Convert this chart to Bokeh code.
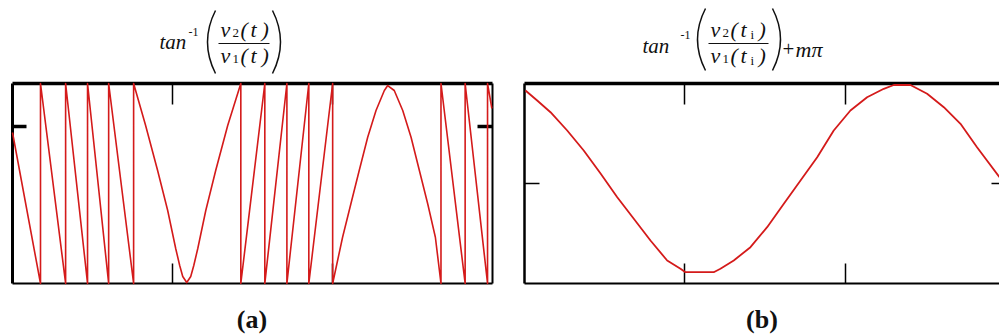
import math

from bokeh.core.properties import value
from bokeh.embed import file_html
from bokeh.layouts import column, row
from bokeh.models import FixedTicker, LinearAxis, Range1d
from bokeh.plotting import figure
from bokeh.resources import INLINE

# ---- panel (a): wrapped phase tan^-1(v2(t)/v1(t)), trace vertices (jumps repeat t) ----
wrap_t = [0.000, 0.175, 0.175, 0.332, 0.332, 0.469, 0.469, 0.601, 0.601, 0.757,
          0.757, 0.832, 0.907, 0.970, 1.020, 1.045, 1.064, 1.089, 1.114, 1.133,
          1.158, 1.208, 1.270, 1.345, 1.427, 1.427, 1.577, 1.577, 1.715, 1.715,
          1.852, 1.852, 2.001, 2.001, 2.063, 2.115, 2.167, 2.220, 2.272, 2.324,
          2.345, 2.386, 2.439, 2.491, 2.543, 2.595, 2.643, 2.678, 2.678, 2.829,
          2.829, 2.969, 2.969, 2.996]
wrap_phase = [0.801, -1.571, 1.571, -1.571, 1.571, -1.571, 1.571, -1.571, 1.571, -1.571,
              1.571, 0.911, 0.204, -0.424, -1.021, -1.288, -1.461, -1.556, -1.461, -1.288,
              -1.021, -0.424, 0.204, 0.911, 1.571, -1.571, 1.571, -1.571, 1.571, -1.571,
              1.571, -1.571, 1.571, -1.571, -0.844, -0.319, 0.204, 0.727, 1.147, 1.461,
              1.539, 1.461, 1.147, 0.727, 0.204, -0.319, -0.844, -1.571, 1.571, -1.571,
              1.571, -1.571, 1.571, 1.178]
a_xticks = [1, 2]
a_yticks = [0.9]

# ---- panel (b): unwrapped phase tan^-1(v2(ti)/v1(ti)) + m*pi ----
unwrap_t = [0.006, 0.079, 0.162, 0.266, 0.369, 0.474, 0.578, 0.681, 0.785, 0.889,
            0.972, 1.003, 1.179, 1.221, 1.304, 1.408, 1.512, 1.616, 1.720, 1.824,
            1.927, 2.031, 2.135, 2.239, 2.301, 2.405, 2.509, 2.613, 2.717, 2.820,
            2.960]
unwrap_phase = [9.30, 8.30, 7.13, 5.30, 3.30, 1.00, -1.37, -3.53, -5.70, -7.70,
                -8.53, -8.87, -8.87, -8.53, -7.70, -6.37, -4.37, -2.03, 0.30, 2.63,
                5.30, 7.30, 8.63, 9.47, 9.85, 9.85, 8.97, 7.63, 5.97, 3.63,
                0.63]
b_xticks = [1, 2]
b_yticks = [0]

RED = "#d41a1a"
INK = "#111111"
SERIF = value("Liberation Serif")


def bare(p):
    p.outline_line_color = None
    p.background_fill_color = "white"
    p.border_fill_color = "white"
    p.xgrid.visible = False
    p.ygrid.visible = False
    return p


def frame_axis(ticks, tick_len, tick_w, line_w, line_color="black"):
    ax = LinearAxis(ticker=FixedTicker(ticks=ticks),
                    major_tick_in=tick_len, major_tick_out=0,
                    minor_tick_in=0, minor_tick_out=0,
                    major_tick_line_color="black", major_tick_line_width=tick_w,
                    axis_line_color=line_color, axis_line_width=line_w)
    ax.major_label_overrides = {t: "" for t in ticks}
    ax.major_label_text_font_size = "0px"
    ax.major_label_standoff = 0
    return ax


def panel(width, ml, mr, xr, yr, xticks, yticks, left_w, right_line, right_tick, ytick_w, ytick_len):
    p = figure(width=width, height=205, x_range=Range1d(*xr), y_range=Range1d(*yr),
               x_axis_location=None, y_axis_location=None, title=None,
               output_backend="svg", toolbar_location=None,
               min_border_left=ml, min_border_right=mr,
               min_border_top=3, min_border_bottom=2)
    bare(p)
    p.add_layout(frame_axis(xticks, 20, 1.5, 2), "below")
    p.add_layout(frame_axis(xticks, 21, 1.5, 3.5), "above")
    p.add_layout(frame_axis(yticks, ytick_len, ytick_w, left_w), "left")
    p.add_layout(frame_axis(yticks, right_tick, ytick_w, 2,
                            line_color="black" if right_line else None), "right")
    return p


def strip(y_top, height):
    # full-width drawing area in page pixels (y grows downward) for formulas and captions
    p = figure(width=999, height=height, x_range=Range1d(0, 999),
               y_range=Range1d(y_top + height, y_top), title=None,
               x_axis_location=None, y_axis_location=None,
               output_backend="svg", toolbar_location=None, min_border=0)
    return bare(p)


def txt(p, x, y, s, size, style="italic", align="left"):
    # y is the wanted baseline; the svg text sits about a third of an em lower
    p.text(x=[x], y=[y - 0.34 * size], text=[s], text_font=SERIF,
           text_font_size=value(f"{size}px"), text_font_style=style,
           text_baseline="alphabetic", text_align=align, text_color=INK)


def paren(p, x_out, x_in, top, bot):
    mid = (top + bot) / 2
    ctrl = 2 * x_out - x_in
    p.quadratic(x0=[x_in], y0=[top], x1=[x_in], y1=[bot], cx=[ctrl], cy=[mid],
                line_color=INK, line_width=1.5)


def fraction_part(p, x, base, sub, var, sub2=None):
    txt(p, x, base, "v", 22)
    txt(p, x + 12, base + 1, sub, 13, "normal")
    txt(p, x + 20, base, "(", 22)
    txt(p, x + 30, base, var, 22)
    if sub2:
        txt(p, x + 40, base + 2, sub2, 13, "normal")
        txt(p, x + 48, base, ")", 22)
    else:
        txt(p, x + 41, base, ")", 22)


# formula headers above both panels
head = strip(0, 80)
txt(head, 159, 49, "tan", 21)
txt(head, 188, 36, "-1", 12, "normal")
paren(head, 207, 215, 10, 73)
fraction_part(head, 220, 36, "2", "t")
head.segment(x0=[218], y0=[43], x1=[269], y1=[43], line_color=INK, line_width=1.2)
fraction_part(head, 220, 62, "1", "t")
paren(head, 280, 272, 10, 73)

txt(head, 642, 53, "tan", 21)
txt(head, 680, 39, "-1", 12, "normal")
paren(head, 697, 705, 8, 70)
fraction_part(head, 710, 36, "2", "t", "i")
head.segment(x0=[708], y0=[43], x1=[768], y1=[43], line_color=INK, line_width=1.2)
fraction_part(head, 710, 62, "1", "t", "i")
paren(head, 780, 772, 8, 70)
txt(head, 782, 56, "+", 21, "normal")
txt(head, 795, 56, "m\u03c0", 22)

# plot panels
pa = panel(510, 12, 18, (0, 3), (-math.pi / 2, math.pi / 2), a_xticks, a_yticks,
           3, True, 15, 3.5, 14)
pa.line(wrap_t, wrap_phase, line_color=RED, line_width=1.6, line_join="round",
        level="overlay")

pb = panel(489, 14, 0, (0, 2.96), (-10, 10), b_xticks, b_yticks,
           2.5, False, 8, 1.5, 15)
pb.line(unwrap_t, unwrap_phase, line_color=RED, line_width=1.8, line_join="round",
        level="overlay")

# captions centred under each plot frame
foot = strip(285, 50)
txt(foot, 251.5, 328, "(a)", 26, "bold", "center")
txt(foot, 761.5, 328, "(b)", 26, "bold", "center")

layout = column(head, row(pa, pb, spacing=0), foot, spacing=0)

open("out.html", "w").write(file_html(layout, INLINE))
